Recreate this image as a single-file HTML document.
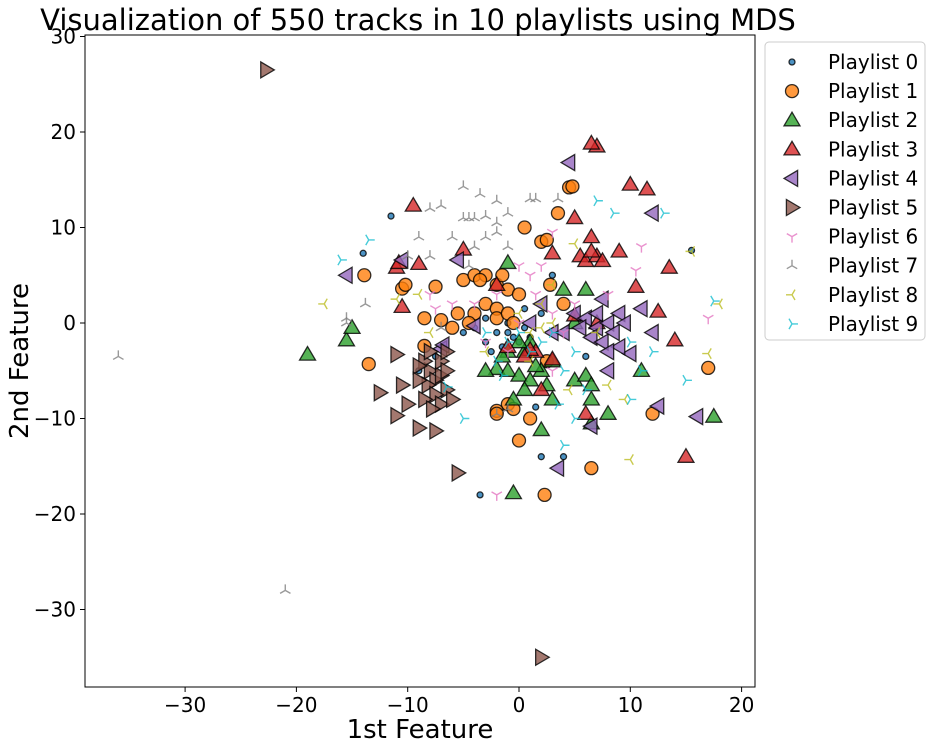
<!DOCTYPE html>
<html><head><meta charset="utf-8"><style>
body{margin:0;background:#fff;font-family:"Liberation Sans",sans-serif}
svg text{font-family:"DejaVu Sans","Liberation Sans",sans-serif}
</style></head><body>
<svg id="chart" width="933" height="749" xmlns="http://www.w3.org/2000/svg">
<rect width="933" height="749" fill="#fff"/>
<text x="418" y="30" font-size="29" text-anchor="middle">Visualization of 550 tracks in 10 playlists using MDS</text>
<g id="marks"></g>
<rect x="85" y="35" width="670" height="652" fill="none" stroke="#000" stroke-width="1"/>
<g id="axes"></g>
<text x="420" y="738" font-size="26" text-anchor="middle">1st Feature</text>
<text transform="translate(28,361) rotate(-90)" font-size="26" text-anchor="middle">2nd Feature</text>
<g id="legend"></g>
</svg>
<script>
const xTicks=[-30,-20,-10,0,10,20];
const yTicks=[30,20,10,0,-10,-20,-30];
const p0=[[-11.5,11.2],[-14,7.3],[-4,-0.5],[-3,-2],[-2,-1],[-1,-1],[0,-2],[-1,0],[-2.5,-3],[0.5,-0.5],[1,-1.5],[-3.5,-18],[2,-14],[4,-14],[1.5,-8.8],[15.5,7.6],[3,5],[-5,-1],[-7.5,-3.5],[-9,-5],[2,1],[-0.5,-1.5],[6,-3.5],[-3,0.5],[-1.5,-2.5],[0.5,1.5]];
const p1=[[4.5,14.2],[4.8,14.3],[3.5,11.5],[0.5,10],[2,8.5],[2.5,8.7],[-13.9,5],[-10.5,3.6],[-10.2,4],[-7.5,3.8],[-5,4.5],[-4,5],[-3,5],[-2,4],[-1,3.5],[0,3],[-3,2],[-2,1.5],[-4,1],[-5.5,1],[-7,0.3],[-8.5,0.5],[-6,-0.5],[-4.5,0],[-2,0.5],[-1,1],[-0.5,0],[2.8,4],[-8.5,-2.4],[-13.5,-4.3],[-1,-8.5],[-2,-9.2],[-2,-9.5],[-0.5,-9],[0,-12.3],[1,-10],[6.5,-15.2],[2.3,-18],[12,-9.5],[17,-4.7],[4,2],[2.5,-4],[-3.5,4.5],[-1.5,5]];
const p2=[[-19,-3.3],[-15.5,-1.8],[-15,-0.5],[-1,6.3],[1,-2],[0.5,-3],[-1,-3],[-2,-4.8],[-1,-5],[0,-5.5],[1,-6],[2,-5],[3,-4],[5,0],[6,3.5],[4,3.5],[2.5,-6.5],[3,-8],[5,-6],[6,-5.5],[6.5,-6.5],[6.5,-8],[6.5,-10.5],[8,-9.5],[11,-5],[17.5,-9.8],[2,-11.2],[-0.5,-17.8],[-0.5,-8],[0,-2],[-1.5,-3.5],[1.5,-4.5],[-3,-5],[0.5,-7]];
const p3=[[-9.5,12.3],[7,18.5],[6.5,18.8],[10,14.5],[11.5,14],[-11,5.8],[-10.8,6.3],[-9,6.2],[-10.5,1.7],[-5,7.7],[-2,4],[5.5,7],[6,6.5],[7,7],[6.5,9],[5,11],[3,7.3],[7.5,6.5],[9,7.5],[13.5,5.8],[10.5,3.8],[12.5,1.2],[14,-1.8],[7,0],[5,0.8],[3,-3.8],[1.5,-3],[1,-2.8],[2,-7],[6,-9.5],[15,-14],[-1,-2.5],[0.5,-3.5],[6.5,7.5]];
const p4=[[4.5,16.8],[12,11.5],[-15.5,5],[-10.5,6.6],[-5.5,6.6],[-7,-2.7],[-6.8,-2.3],[-4,-0.3],[3,-1],[9,1],[11,1.5],[12,-1],[10,-3.2],[6.5,-10.8],[16,-9.8],[12.5,-8.7],[3.5,-15.2],[8,-5],[7.5,2.5],[5,1],[6,0.5],[7,-0.5],[8,0],[6.5,-1.5],[7.5,-2],[8.5,-1],[9,-2.5],[5.5,-0.5],[7,1],[8,-3],[4,-1],[9.5,0],[2,2],[1,0]];
const p5=[[-22.7,26.5],[2,-35],[-8,-5],[-8.5,-4],[-7.5,-6],[-8.2,-6.5],[-7,-5.5],[-6.5,-7],[-7.5,-7.5],[-8,-3],[-9,-4.5],[-7,-4],[-6.5,-5],[-8.5,-8],[-7,-8.5],[-6,-8],[-9,-6],[-11,-3.3],[-12.5,-7.3],[-11,-9.7],[-10,-8.5],[-9,-11],[-7.5,-11.3],[-5.5,-15.7],[-10.5,-6.5],[-6.5,-3],[-7.8,-9]];
const p6=[[-8,3],[-6,2],[-4,2],[-2,3],[1,5],[2,6],[3,9.5],[0,6],[5,2],[3,1],[8,3],[10.5,5.5],[11,8],[17,0.5],[3,-5],[-1,-3],[0,0],[-2,-18],[-3,-2],[4,-1],[-7.5,1.5],[1.5,3]];
const p7=[[-36,-3.5],[-21,-28],[-5,14.3],[-3.5,13.5],[-2,12.8],[-1,11.5],[1,13],[1.5,13],[-7,12.3],[-5,11],[-4,11],[-3,11.2],[-6,9],[-4,8],[-3,9],[-2,9.5],[-1,8],[-2,10.5],[-8,12],[-9,9],[-10,7],[-8,7],[-13.8,2],[-15.5,0.5],[-15.5,0],[-7,-0.5],[-2,-9.5],[-1,-9],[3.5,13],[-4.5,6],[-4.5,11]];
const p8=[[-17.5,2],[-11,2.5],[-9,3],[5,8.3],[3,4],[2,2],[0,1],[1,-1],[-3,-3],[8,-6.5],[9.5,-8],[10,-14.3],[15.5,7.5],[17,-3.2],[18,2],[4.5,-7],[7,-1],[-8,-1],[1,-4],[2,-0.5],[3,0]];
const p9=[[-16,6.6],[-13.5,8.7],[-6.5,-6.7],[-5,-10],[-2,-4],[0,-1],[-1,-2],[1,-3],[2,-2],[3,-1],[4,-5],[5,-3],[6,-7],[5,-10],[4,-12.8],[7,12.8],[8.5,11.5],[10,-2],[11,-5],[12,-3],[15,-6],[17.5,2.3],[13,11.5],[10,-8],[3.5,-8.5],[-3,-1],[-1.5,-5.5]];
const seriesNames=["Playlist 0","Playlist 1","Playlist 2","Playlist 3","Playlist 4","Playlist 5","Playlist 6","Playlist 7","Playlist 8","Playlist 9"];
const all=[p0,p1,p2,p3,p4,p5,p6,p7,p8,p9];
const colors=["#1f77b4","#ff7f0e","#2ca02c","#d62728","#9467bd","#8c564b","#e377c2","#7f7f7f","#bcbd22","#17becf"];
const kinds=["dot","circle","tup","tup","tleft","tright","tri-down","tri-up","tri-left","tri-right"];
const NS="http://www.w3.org/2000/svg";
const X=v=>519+v*11.13, Y=v=>323-v*9.55;
function mk(tag,attrs,parent){const e=document.createElementNS(NS,tag);for(const k in attrs)e.setAttribute(k,attrs[k]);parent.appendChild(e);return e;}
function marker(kind,color,cx,cy,parent){
  let e;
  const s=8;
  if(kind==="dot") e=mk("circle",{cx,cy,r:3,fill:color,"fill-opacity":0.8,stroke:"#000","stroke-opacity":0.8,"stroke-width":1.3},parent);
  else if(kind==="circle") e=mk("circle",{cx,cy,r:6.5,fill:color,"fill-opacity":0.8,stroke:"#000","stroke-opacity":0.8,"stroke-width":1.3},parent);
  else if(kind==="tup"||kind==="tleft"||kind==="tright"){
    let pts;
    if(kind==="tup") pts=[[0,-s],[-s,s*0.7],[s,s*0.7]];
    else if(kind==="tleft") pts=[[-s,0],[s*0.7,-s],[s*0.7,s]];
    else pts=[[s,0],[-s*0.7,-s],[-s*0.7,s]];
    e=mk("polygon",{points:pts.map(p=>(cx+p[0])+","+(cy+p[1])).join(" "),fill:color,"fill-opacity":0.8,stroke:"#000","stroke-opacity":0.8,"stroke-width":1.3},parent);
  } else {
    const rot={"tri-down":180,"tri-up":0,"tri-left":270,"tri-right":90}[kind];
    const r=6;
    const d=[0,120,240].map(a=>{const t=(a+rot)*Math.PI/180;return "M"+cx+","+cy+"L"+(cx+r*Math.sin(t))+","+(cy-r*Math.cos(t));}).join("");
    e=mk("path",{d,stroke:color,"stroke-opacity":0.8,"stroke-width":1.4,fill:"none"},parent);
  }
  return e;
}
const marks=document.getElementById("marks");
all.forEach((arr,i)=>{
  const g=mk("g",{},marks);
  
  
  arr.forEach(p=>{
    const m=marker(kinds[i],colors[i],X(p[0]),Y(p[1]),g);
    
    
  });
});
const axes=document.getElementById("axes");
xTicks.forEach(t=>{
  const l=mk("line",{x1:X(t),x2:X(t),y1:687,y2:692,stroke:"#000"},axes);
  
  
  const tx=mk("text",{x:X(t),y:712,"font-size":20,"text-anchor":"middle"},axes);
  tx.textContent=(t<0?"\u2212"+(-t):t);
  
  
});
yTicks.forEach(t=>{
  const l=mk("line",{x1:80,x2:85,y1:Y(t),y2:Y(t),stroke:"#000"},axes);
  
  
  const tx=mk("text",{x:76,y:Y(t)+7,"font-size":20,"text-anchor":"end"},axes);
  tx.textContent=(t<0?"\u2212"+(-t):t);
  
  
});
const leg=document.getElementById("legend");
const box=mk("rect",{x:765,y:42,width:160,height:298,rx:4,fill:"#fff",stroke:"#ccc"},leg);


seriesNames.forEach((n,i)=>{
  const cy=62+i*29.1;
  const g=mk("g",{},leg);
  
  
  marker(kinds[i],colors[i],792,cy,g);
  const t=mk("text",{x:828,y:cy+7,"font-size":20},g);
  t.textContent=n;
});
</script>
</body></html>
